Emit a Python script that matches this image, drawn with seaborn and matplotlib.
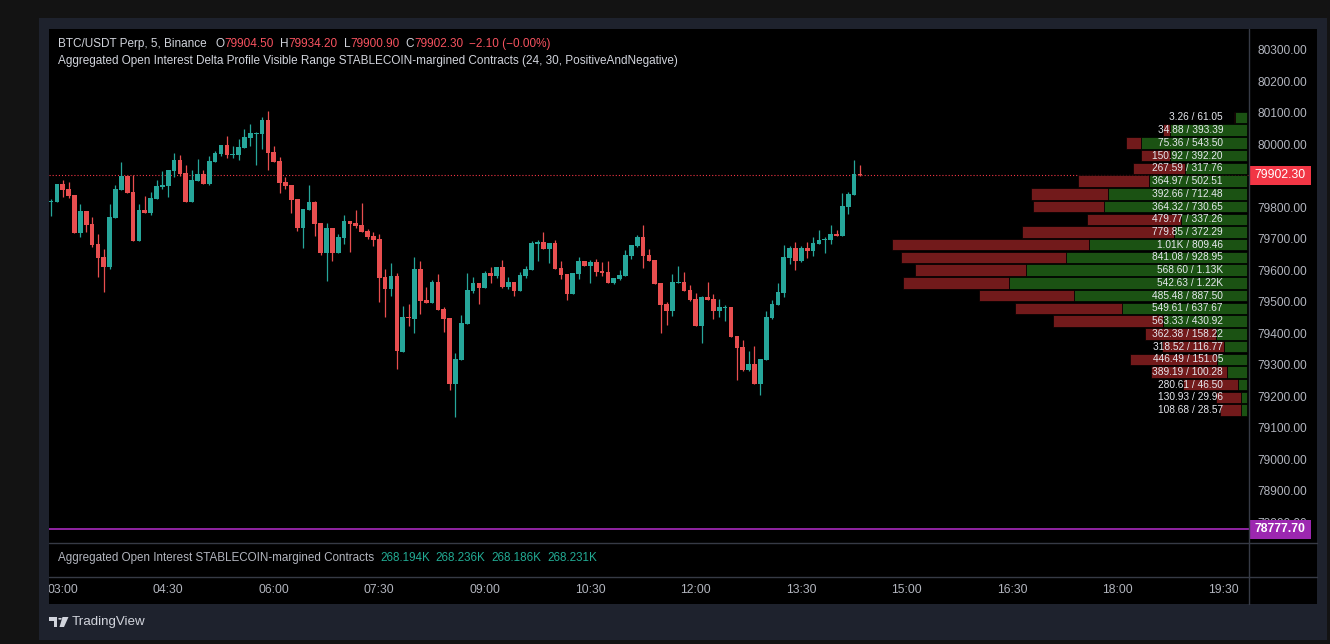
import numpy as np
import matplotlib
matplotlib.use("Agg")
import matplotlib.pyplot as plt
import matplotlib.transforms as mtransforms
from matplotlib.patches import Rectangle, Polygon, Circle
from matplotlib.lines import Line2D
import seaborn as sns

# ---------------- data ----------------
opens = [79816, 79817, 79874, 79858, 79839, 79719, 79788, 79746, 79683, 79641,
         79611, 79767, 79856, 79899, 79848, 79693, 79791, 79782, 79827, 79864,
         79867, 79915, 79950, 79909, 79817, 79883, 79905, 79874, 79944, 79969,
         79998, 79967, 79966, 79989, 80020, 80034, 80033, 80077, 79975, 79947,
         79880, 79870, 79826, 79734, 79791, 79816, 79750, 79654, 79734, 79654,
         79702, 79756, 79750, 79743, 79724, 79708, 79699, 79578, 79540, 79581,
         79339, 79452, 79444, 79603, 79505, 79495, 79562, 79476, 79447, 79237,
         79314, 79428, 79533, 79559, 79543, 79590, 79581, 79610, 79546, 79562,
         79533, 79581, 79600, 79683, 79689, 79667, 79686, 79606, 79587, 79524,
         79587, 79629, 79613, 79625, 79597, 79594, 79559, 79571, 79581, 79645,
         79676, 79705, 79648, 79632, 79559, 79492, 79470, 79559, 79562, 79536,
         79508, 79422, 79514, 79508, 79470, 79481, 79482, 79390, 79355, 79282,
         79301, 79240, 79314, 79447, 79489, 79527, 79638, 79670, 79629, 79670,
         79660, 79683, 79695, 79695, 79715, 79708, 79800, 79839, 79904.5]
highs = [79826, 79874, 79886, 79880, 79839, 79810, 79788, 79769, 79715, 79667,
         79810, 79870, 79944, 79899, 79902, 79810, 79835, 79848, 79886, 79915,
         79918, 79972, 79966, 79934, 79918, 79953, 79918, 79963, 79979, 79998,
         80026, 79995, 80017, 80049, 80065, 80039, 80087, 80106, 79995, 79960,
         79896, 79870, 79826, 79794, 79870, 79820, 79750, 79750, 79734, 79715,
         79775, 79756, 79791, 79813, 79730, 79721, 79715, 79603, 79622, 79590,
         79485, 79492, 79641, 79629, 79546, 79568, 79587, 79482, 79447, 79336,
         79457, 79590, 79578, 79559, 79597, 79610, 79610, 79632, 79578, 79562,
         79594, 79613, 79692, 79695, 79721, 79686, 79695, 79629, 79587, 79590,
         79641, 79629, 79632, 79635, 79625, 79629, 79575, 79600, 79664, 79680,
         79711, 79743, 79667, 79632, 79559, 79498, 79587, 79613, 79594, 79552,
         79527, 79517, 79562, 79524, 79508, 79489, 79482, 79390, 79377, 79342,
         79358, 79317, 79470, 79505, 79559, 79680, 79676, 79689, 79676, 79689,
         79705, 79727, 79705, 79743, 79727, 79845, 79848, 79950, 79934.2]
lows = [79773, 79817, 79833, 79830, 79718, 79706, 79722, 79674, 79579, 79531,
        79604, 79767, 79856, 79846, 79693, 79693, 79782, 79776, 79827, 79859,
        79832, 79897, 79900, 79817, 79817, 79883, 79874, 79870, 79944, 79964,
        79957, 79957, 79950, 79989, 79995, 79934, 79985, 79918, 79944, 79845,
        79858, 79781, 79724, 79670, 79791, 79708, 79648, 79565, 79629, 79654,
        79683, 79657, 79734, 79721, 79699, 79676, 79498, 79450, 79517, 79285,
        79339, 79422, 79400, 79460, 79495, 79495, 79473, 79403, 79218, 79135,
        79314, 79428, 79527, 79492, 79543, 79559, 79575, 79543, 79540, 79517,
        79533, 79575, 79600, 79629, 79667, 79622, 79603, 79571, 79505, 79524,
        79571, 79613, 79559, 79581, 79581, 79559, 79555, 79568, 79581, 79635,
        79673, 79606, 79629, 79555, 79400, 79425, 79454, 79559, 79533, 79501,
        79422, 79368, 79505, 79444, 79450, 79438, 79387, 79250, 79279, 79279,
        79237, 79205, 79314, 79444, 79489, 79514, 79619, 79600, 79625, 79638,
        79645, 79683, 79654, 79683, 79708, 79708, 79778, 79839, 79900.9]
closes = [79821, 79874, 79856, 79837, 79719, 79788, 79744, 79681, 79639, 79611,
          79769, 79858, 79899, 79846, 79693, 79791, 79782, 79829, 79867, 79870,
          79918, 79950, 79905, 79817, 79886, 79905, 79874, 79947, 79972, 79998,
          79966, 79969, 79991, 80023, 80036, 80036, 80077, 79973, 79944, 79877,
          79867, 79823, 79734, 79794, 79816, 79746, 79654, 79734, 79654, 79705,
          79756, 79746, 79740, 79721, 79705, 79695, 79574, 79540, 79581, 79342,
          79450, 79449, 79603, 79501, 79495, 79562, 79473, 79444, 79237, 79317,
          79431, 79536, 79559, 79543, 79590, 79581, 79610, 79546, 79562, 79533,
          79584, 79603, 79686, 79689, 79667, 79686, 79603, 79584, 79524, 79590,
          79629, 79613, 79625, 79594, 79590, 79559, 79575, 79584, 79648, 79680,
          79705, 79645, 79629, 79555, 79489, 79470, 79562, 79562, 79533, 79505,
          79422, 79514, 79505, 79470, 79482, 79483, 79387, 79352, 79282, 79301,
          79240, 79317, 79450, 79492, 79530, 79641, 79670, 79629, 79670, 79660,
          79686, 79695, 79699, 79715, 79708, 79804, 79842, 79904.4, 79902.3]

first_bar_minute = 170      # 02:50
bar_minutes = 5

# profile rows, top (highest price) to bottom
profile_neg = [3.26, 34.88, 75.36, 150.92, 267.59, 364.97, 392.66, 364.32,
               479.77, 779.85, 1010, 841.08, 568.60, 542.63, 485.48, 549.61,
               563.33, 362.38, 318.52, 446.49, 389.19, 280.61, 130.93, 108.68]
profile_pos = [61.05, 393.39, 543.50, 392.20, 317.76, 502.51, 712.48, 730.65,
               337.26, 372.29, 809.46, 928.95, 1130, 1220, 887.50, 637.67,
               430.92, 158.22, 116.77, 151.05, 100.28, 46.50, 29.96, 28.57]

price_ticks = [78800, 78900, 79000, 79100, 79200, 79300, 79400, 79500,
               79600, 79700, 79800, 79900, 80000, 80100, 80200, 80300]
time_tick_labels = ["03:00", "04:30", "06:00", "07:30", "09:00", "10:30",
                    "12:00", "13:30", "15:00", "16:30", "18:00", "19:30"]
time_tick_minutes = [180, 270, 360, 450, 540, 630, 720, 810, 900, 990, 1080, 1170]

marker_level = 78777.70
symbol_text = "BTC/USDT Perp, 5, Binance"
indicator_title = ("Aggregated Open Interest Delta Profile Visible Range "
                   "STABLECOIN-margined Contracts (24, 30, PositiveAndNegative)")
oi_title = "Aggregated Open Interest STABLECOIN-margined Contracts"
oi_values = ["268.194K", "268.236K", "268.186K", "268.231K"]

# ---------------- style ----------------
sns.set_theme(style="dark", rc={"axes.facecolor": "black", "figure.facecolor": "#131313"})
plt.rcParams["font.family"] = ["Liberation Sans", "DejaVu Sans"]
plt.rcParams["axes.unicode_minus"] = True

GREEN = "#26a69a"
RED = "#e84e4f"
P_GREEN = "#1b5213"
P_RED = "#721a1b"
TXT = "#d1d4dc"
AXTXT = "#b2b5be"
SEP = "#363a45"

W, H = 1330, 644
fig = plt.figure(figsize=(W / 100, H / 100), dpi=100, facecolor="#131313")


def fx(px):
    return px / W


def fy(py):
    return 1 - py / H


def frect(x0, y0, x1, y1, color, z=-5):
    fig.add_artist(Rectangle((fx(x0), fy(y1)), fx(x1) - fx(x0), fy(y0) - fy(y1),
                             transform=fig.transFigure, facecolor=color,
                             edgecolor="none", zorder=z))


def fline(x0, y0, x1, y1, color=SEP, lw=1.0, z=10):
    fig.add_artist(Line2D([fx(x0), fx(x1)], [fy(y0), fy(y1)], transform=fig.transFigure,
                          color=color, lw=lw, zorder=z))


# frame panels
frect(39, 18, 1327, 640, "#1e222d", z=-6)
frect(49, 29, 1317, 604, "#000000", z=-5)

# ---------------- main price pane ----------------
ax = fig.add_axes([fx(49), fy(543), 1200 / W, 514 / H])
ax.set_facecolor("black")
o = np.array(opens, float)
h = np.array(highs, float)
l = np.array(lows, float)
c = np.array(closes, float)
xm = first_bar_minute + np.arange(len(o)) * bar_minutes
up = c >= o
cols = np.where(up, GREEN, RED)

ax.vlines(xm, l, h, colors=cols, lw=0.9, zorder=2)
ax.bar(xm, np.maximum(np.abs(c - o), 2.5), bottom=np.minimum(o, c), width=4.0,
       color=cols, linewidth=0, zorder=3)

ax.set_xlim(168.3, 1191.8)
ax.set_ylim(78733.3, 80366.7)
ax.set_xticks([])
ax.set_yticks(price_ticks)
ax.set_yticklabels([f"{v:.2f}" for v in price_ticks])
ax.yaxis.tick_right()
ax.tick_params(axis="y", length=0, pad=6, labelsize=8.6, labelcolor=AXTXT)
for s in ax.spines.values():
    s.set_visible(False)
ax.grid(False)

# last price dotted line and marker line
ax.axhline(c[-1], color="#f23645", lw=0.8, linestyle=(0, (1.0, 1.8)), zorder=1)
ax.axhline(marker_level, color="#9c27b0", lw=1.3, zorder=1)

# ---------------- delta profile (twin x) ----------------
axp = ax.twiny()
axp.set_facecolor("none")
axp.axis("off")
neg = np.array(profile_neg)
pos = np.array(profile_pos)
totals = neg + pos
span = totals.max() / 0.2967
axp.set_xlim(span, -span * 2 / 1200)
n_rows = len(neg)
hi, lo = h.max(), l.min()
step = (hi - lo) / n_rows
centers = hi - (np.arange(n_rows) + 0.5) * step
axp.barh(centers, pos, height=step * 0.9, left=0, color=P_GREEN,
         edgecolor="black", linewidth=0.5, zorder=4)
axp.barh(centers, neg, height=step * 0.9, left=pos, color=P_RED,
         edgecolor="black", linewidth=0.5, zorder=4)


def fmt(v):
    return f"{v / 1000:.2f}K" if v >= 1000 else f"{v:.2f}"


lab_tr = mtransforms.blended_transform_factory(axp.transAxes, axp.transData)
for yc, ng, ps in zip(centers, neg, pos):
    axp.text(1 - 26 / 1200, yc, f"{fmt(ng)} / {fmt(ps)}", transform=lab_tr,
             ha="right", va="center", fontsize=7.3, color="#e6e8ee", zorder=6)

# price tags on the axis
ylo, yhi = ax.get_ylim()
tag_h = 19 * (yhi - ylo) / 514
tag_tr = mtransforms.blended_transform_factory(ax.transAxes, ax.transData)


def price_tag(value, color, bold):
    ax.add_patch(Rectangle((1.0, value - tag_h / 2), 62 / 1200, tag_h, transform=tag_tr,
                           facecolor=color, edgecolor="none", clip_on=False, zorder=8))
    ax.text(1.0 + 31 / 1200, value, f"{value:.2f}", transform=tag_tr, ha="center",
            va="center", color="white", fontsize=8.8,
            fontweight="bold" if bold else "normal", clip_on=False, zorder=9)


price_tag(c[-1], "#f23645", False)
price_tag(marker_level, "#9c27b0", True)

# ---------------- open interest pane ----------------
axo = fig.add_axes([fx(49), fy(577), 1200 / W, 34 / H])
axo.set_facecolor("black")
axo.set_xlim(ax.get_xlim())
axo.set_yticks([])
axo.set_xticks(time_tick_minutes)
axo.set_xticklabels(time_tick_labels)
axo.tick_params(axis="x", length=0, pad=5, labelsize=8.7, labelcolor=AXTXT)
for s in axo.spines.values():
    s.set_visible(False)
axo.grid(False)
clip = mtransforms.TransformedBbox(
    mtransforms.Bbox.from_extents(fx(49), 0, fx(1249), 1), fig.transFigure)
for t in axo.xaxis.get_major_ticks():
    t.label1.set_clip_box(clip)
    t.label1.set_clip_on(True)

# separators
fline(49, 543, 1317, 543)
fline(49, 577, 1317, 577)
fline(1249, 29, 1249, 604)

# ---------------- header texts ----------------
renderer = fig.canvas.get_renderer()


def runs(items, x0, y, size):
    x = x0
    for text, color, gap in items:
        t = fig.text(fx(x), fy(y), text, color=color, fontsize=size, ha="left",
                     va="center", zorder=12)
        bb = t.get_window_extent(renderer=renderer)
        x = bb.x1 + gap


chg = c[-1] - c[-2]
pct = chg / c[-2] * 100
chg_txt = f"{chg:+.2f} ({pct:+.2f}%)".replace("-", "\u2212")
HR = "#f7525f"
runs([(symbol_text, TXT, 9),
      ("O", TXT, 0), (f"{o[-1]:.2f}", HR, 6),
      ("H", TXT, 0), (f"{h[-1]:.2f}", HR, 6),
      ("L", TXT, 0), (f"{l[-1]:.2f}", HR, 6),
      ("C", TXT, 0), (f"{c[-1]:.2f}", HR, 6),
      (chg_txt, HR, 0)], 58, 44, 8.5)
runs([(indicator_title, TXT, 0)], 58, 61, 8.5)
runs([(oi_title, AXTXT, 6)] + [(v, "#22ab94", 6) for v in oi_values], 58, 558, 8.4)

# ---------------- TradingView logo ----------------
LOGO = "#d1d4dc"
frect(49, 617, 57, 620.5, LOGO, z=12)
frect(53.5, 617, 57, 627, LOGO, z=12)
fig.add_artist(Circle((fx(60), fy(618.8)), 1.8 / W, transform=fig.transFigure,
                      facecolor=LOGO, edgecolor="none", zorder=12))
fig.add_artist(Polygon([(fx(62.5), fy(617)), (fx(68.5), fy(617)), (fx(64), fy(627)),
                        (fx(59.5), fy(627))], closed=True, transform=fig.transFigure,
                       facecolor=LOGO, edgecolor="none", zorder=12))
fig.text(fx(72), fy(622), "TradingView", color=LOGO, fontsize=9.6, ha="left",
         va="center", zorder=12)

fig.savefig("out.png", dpi=100, facecolor=fig.get_facecolor())
